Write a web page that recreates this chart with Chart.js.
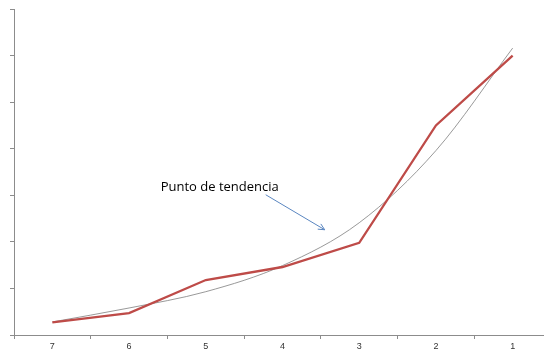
<!DOCTYPE html>
<html>
<head>
<meta charset="utf-8">
<script src="https://cdn.jsdelivr.net/npm/chart.js@4.4.1/dist/chart.umd.min.js"></script>
<style>
  html, body { margin: 0; padding: 0; background: #fff; overflow: hidden; }
  #wrap { width: 552px; height: 354px; }
</style>
</head>
<body>
<div id="wrap"><canvas id="chart"></canvas></div>
<script>
// values
const labels = ['7', '6', '5', '4', '3', '2', '1'];
const serie = [0.27, 0.47, 1.18, 1.46, 1.98, 4.5, 6.0];
const tendencia = [0.28, 0.58, 0.93, 1.49, 2.41, 3.96, 6.16];
const yTicks = [0, 1, 2, 3, 4, 5, 6, 7];

// note anchored in data units: arrow tip between "4" and "3"
const nota = { texto: 'Punto de tendencia', tipX: 3.55, tipY: 2.26 };

const axisColor = '#8c8c8c';

const notePlugin = {
    id: 'nota',
    afterDatasetsDraw(chart) {
        const { ctx, scales: { x, y } } = chart;
        const tx = x.getPixelForValue(nota.tipX);
        const ty = y.getPixelForValue(nota.tipY);
        const sx = tx - 59, sy = ty - 35;
        ctx.save();
        ctx.strokeStyle = '#5a86c0';
        ctx.lineWidth = 1;
        ctx.beginPath();
        ctx.moveTo(sx, sy);
        ctx.lineTo(tx, ty);
        ctx.stroke();
        const a = Math.atan2(ty - sy, tx - sx);
        ctx.beginPath();
        ctx.moveTo(tx - 7 * Math.cos(a - 0.45), ty - 7 * Math.sin(a - 0.45));
        ctx.lineTo(tx, ty);
        ctx.lineTo(tx - 7 * Math.cos(a + 0.45), ty - 7 * Math.sin(a + 0.45));
        ctx.stroke();
        ctx.fillStyle = '#000';
        ctx.font = '13px "Open Sans"';
        ctx.textBaseline = 'middle';
        ctx.fillText(nota.texto, sx - 105, sy - 7);
        ctx.restore();
    }
};

new Chart(document.getElementById('chart'), {
    type: 'line',
    data: {
        labels,
        datasets: [
            {
                label: 'Serie',
                data: serie,
                borderColor: '#be4b48',
                borderWidth: 2.3,
                pointRadius: 0,
                tension: 0,
                order: 1
            },
            {
                label: 'Tendencia',
                data: tendencia,
                borderColor: '#7f7f7f',
                borderWidth: 0.8,
                pointRadius: 0,
                cubicInterpolationMode: 'monotone',
                order: 2
            }
        ]
    },
    options: {
        responsive: true,
        maintainAspectRatio: false,
        animation: false,
        layout: { padding: { top: 9, right: 1, left: 0, bottom: 0 } },
        plugins: {
            legend: { display: false },
            tooltip: { enabled: false }
        },
        scales: {
            x: {
                offset: true,
                grid: {
                    offset: true,
                    drawOnChartArea: false,
                    color: axisColor,
                    tickLength: 4
                },
                border: { color: axisColor },
                ticks: {
                    color: '#333',
                    font: { family: 'Liberation Sans', size: 9 },
                    padding: 2,
                    maxRotation: 0
                },
                afterFit: (s) => { s.height = 19; }
            },
            y: {
                min: yTicks[0],
                max: yTicks[yTicks.length - 1],
                afterBuildTicks: (s) => { s.ticks = yTicks.map(v => ({ value: v })); },
                grid: {
                    drawOnChartArea: false,
                    color: axisColor,
                    tickLength: 4
                },
                border: { color: axisColor },
                ticks: { display: false },
                afterFit: (s) => { s.width = 14; }
            }
        }
    },
    plugins: [notePlugin]
});
</script>
</body>
</html>
